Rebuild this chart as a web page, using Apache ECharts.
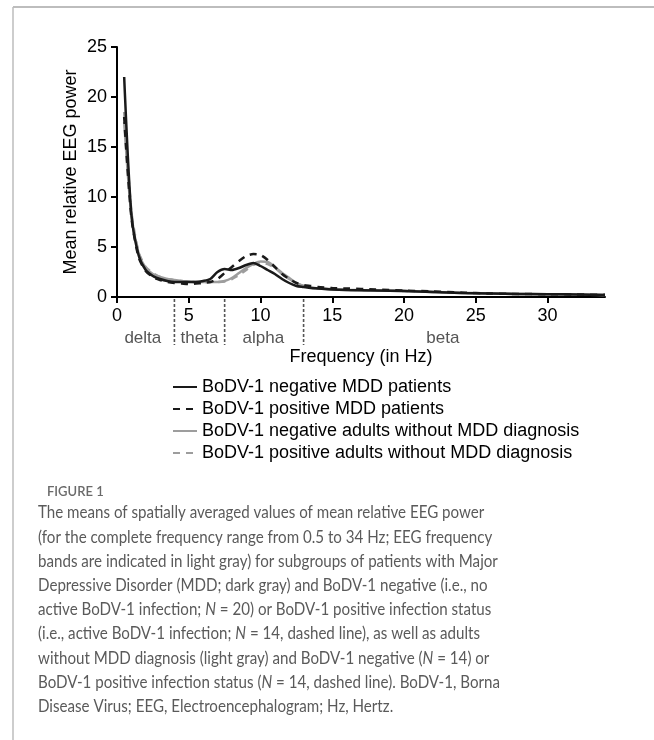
<!DOCTYPE html>
<html>
<head>
<meta charset="utf-8">
<script src="https://cdn.jsdelivr.net/npm/echarts@6/dist/echarts.min.js"></script>
<style>
html,body{margin:0;padding:0;background:#fff;}
#chart{width:654px;height:740px;}
</style>
</head>
<body>
<div id="chart"></div>
<script>
// ---- data ----
const freqs = [0.5,1,1.5,2,2.5,3,3.5,4,4.5,5,5.5,6,6.5,7,7.5,8,8.5,9,9.5,10,10.5,11,11.5,12,12.5,13,13.5,14,15,16,18,20,22,24,26,28,30,32,34];
const negMDD = [22.0,8.3,4.2,2.7,2.1,1.8,1.6,1.5,1.5,1.5,1.5,1.6,1.8,2.5,2.8,2.7,2.9,3.2,3.4,3.1,2.7,2.3,1.8,1.4,1.1,1.0,0.9,0.85,0.75,0.7,0.65,0.6,0.5,0.4,0.35,0.3,0.28,0.25,0.2];
const posMDD = [18.0,8.0,4.0,2.6,2.0,1.7,1.5,1.4,1.35,1.3,1.35,1.4,1.5,1.8,2.4,3.0,3.6,4.1,4.3,4.2,3.7,3.0,2.3,1.8,1.4,1.2,1.1,1.0,0.9,0.85,0.75,0.65,0.55,0.45,0.35,0.3,0.28,0.25,0.22];
const negCtrl = [17.5,8.2,4.4,2.9,2.3,2.0,1.8,1.7,1.6,1.55,1.5,1.5,1.5,1.5,1.6,1.9,2.4,2.9,3.3,3.55,3.5,3.0,2.4,1.9,1.4,1.1,0.95,0.85,0.75,0.7,0.65,0.6,0.5,0.4,0.35,0.3,0.27,0.25,0.2];
const posCtrl = [18.5,8.6,4.5,3.0,2.4,2.0,1.8,1.7,1.6,1.55,1.5,1.5,1.5,1.5,1.55,1.8,2.2,2.7,3.2,3.4,3.3,2.9,2.3,1.8,1.4,1.1,0.95,0.85,0.8,0.72,0.66,0.6,0.5,0.42,0.36,0.3,0.27,0.25,0.2];
const seriesNames = ['BoDV-1 negative MDD patients','BoDV-1 positive MDD patients','BoDV-1 negative adults without MDD diagnosis','BoDV-1 positive adults without MDD diagnosis'];
const bandEdges = [4, 7.5, 13];
const bandNames = ['delta','theta','alpha','beta'];
const bandLabelPos = [1.8, 5.75, 10.2, 22.7];
const yTicks = [0,5,10,15,20,25];
const xTicks = [0,5,10,15,20,25,30];
const captionTitle = 'FIGURE 1';
const captionLines = [
  'The means of spatially averaged values of mean relative EEG power',
  '(for the complete frequency range from 0.5 to 34 Hz; EEG frequency',
  'bands are indicated in light gray) for subgroups of patients with Major',
  'Depressive Disorder (MDD; dark gray) and BoDV-1 negative (i.e., no',
  'active BoDV-1 infection; {i|N} = 20) or BoDV-1 positive infection status',
  '(i.e., active BoDV-1 infection; {i|N} = 14, dashed line), as well as adults',
  'without MDD diagnosis (light gray) and BoDV-1 negative ({i|N} = 14) or',
  'BoDV-1 positive infection status ({i|N} = 14, dashed line). BoDV-1, Borna',
  'Disease Virus; EEG, Electroencephalogram; Hz, Hertz.'
];

// ---- chart ----
const FONT = '"Liberation Sans", Arial, sans-serif';
const chart = echarts.init(document.getElementById('chart'), null, {renderer:'canvas'});
const pairs = arr => freqs.map((f,i)=>[f,arr[i]]);
const BLACK = '#1a1a1a', GRAY = '#9d9d9d';
function mk(name, data, color, dashed, z){
  return {
    name, type:'line', data:pairs(data), symbol:'none', showSymbol:false, smooth:0.25, z,
    lineStyle:{color, width:2.5, type: dashed ? [7,6] : 'solid'},
    itemStyle:{color}
  };
}
const option = {
  animation:false,
  grid:{left:117, right:49, top:47, bottom:443, containLabel:false},
  xAxis:{
    type:'value', min:0, max:34, interval:5,
    name:'Frequency (in Hz)', nameLocation:'middle', nameGap:51, nameMoveOverlap:false,
    nameTextStyle:{fontFamily:FONT, fontSize:18, color:'#000'},
    axisLine:{onZero:false, lineStyle:{color:'#000', width:2}},
    axisTick:{show:true, length:6, lineStyle:{color:'#000', width:2}},
    axisLabel:{fontFamily:FONT, fontSize:18, color:'#000', margin:10, showMaxLabel:false,
      formatter: v => xTicks.includes(v) ? String(v) : ''},
    splitLine:{show:false}
  },
  yAxis:{
    type:'value', min:0, max:25, interval:5,
    name:'Mean relative EEG power', nameLocation:'middle', nameGap:37, nameMoveOverlap:false,
    nameTextStyle:{fontFamily:FONT, fontSize:18, color:'#000'},
    axisLine:{show:true, lineStyle:{color:'#000', width:2}},
    axisTick:{show:true, length:6, lineStyle:{color:'#000', width:2}},
    axisLabel:{fontFamily:FONT, fontSize:18, color:'#000', margin:10,
      formatter: v => yTicks.includes(v) ? String(v) : ''},
    splitLine:{show:false}
  },
  legend:{
    orient:'vertical', left:172, top:378, padding:0, itemWidth:24, itemHeight:14, itemGap:4,
    itemStyle:{opacity:0},
    textStyle:{fontFamily:FONT, fontSize:18, color:'#000'},
    data: seriesNames
  },
  series:[
    mk(seriesNames[2], negCtrl, GRAY, false, 2),
    mk(seriesNames[3], posCtrl, GRAY, true, 3),
    mk(seriesNames[0], negMDD, BLACK, false, 4),
    mk(seriesNames[1], posMDD, BLACK, true, 5)
  ]
};
chart.setOption(option);

// annotations positioned through the axis scales
const g = [];
g.push({type:'line', shape:{x1:13,y1:7,x2:654,y2:7}, style:{stroke:'#bdbdbd', lineWidth:2}, silent:true});
g.push({type:'line', shape:{x1:13,y1:7,x2:13,y2:740}, style:{stroke:'#bdbdbd', lineWidth:1.5}, silent:true});
bandEdges.forEach(f=>{
  const p = chart.convertToPixel({gridIndex:0}, [f, 0]);
  g.push({type:'line', shape:{x1:p[0], y1:p[1]+2, x2:p[0], y2:p[1]+48},
    style:{stroke:'#555', lineWidth:1.6, lineDash:[3,2]}, silent:true});
});
bandNames.forEach((n,i)=>{
  const p = chart.convertToPixel({gridIndex:0}, [bandLabelPos[i], 0]);
  g.push({type:'text', x:p[0], y:p[1]+41, style:{text:n, fill:'#555', font:'17px '+FONT, align:'center', verticalAlign:'middle'}, silent:true});
});
g.push({type:'text', x:47, y:492, style:{text:captionTitle, fill:'#6a6a6a', font:'600 13px Lato, "Open Sans", sans-serif', verticalAlign:'middle'}, silent:true});
captionLines.forEach((t,i)=>{
  g.push({type:'text', x:38, y:513 + i*24.2, scaleX:0.89, style:{
    text:t, fill:'#5a5a5a', font:'17px Lato, sans-serif', verticalAlign:'middle',
    rich:{i:{fontStyle:'italic', fontFamily:'Lato', fontSize:17, fill:'#5a5a5a'}}
  }, silent:true});
});
chart.setOption({graphic:g});
</script>
</body>
</html>
